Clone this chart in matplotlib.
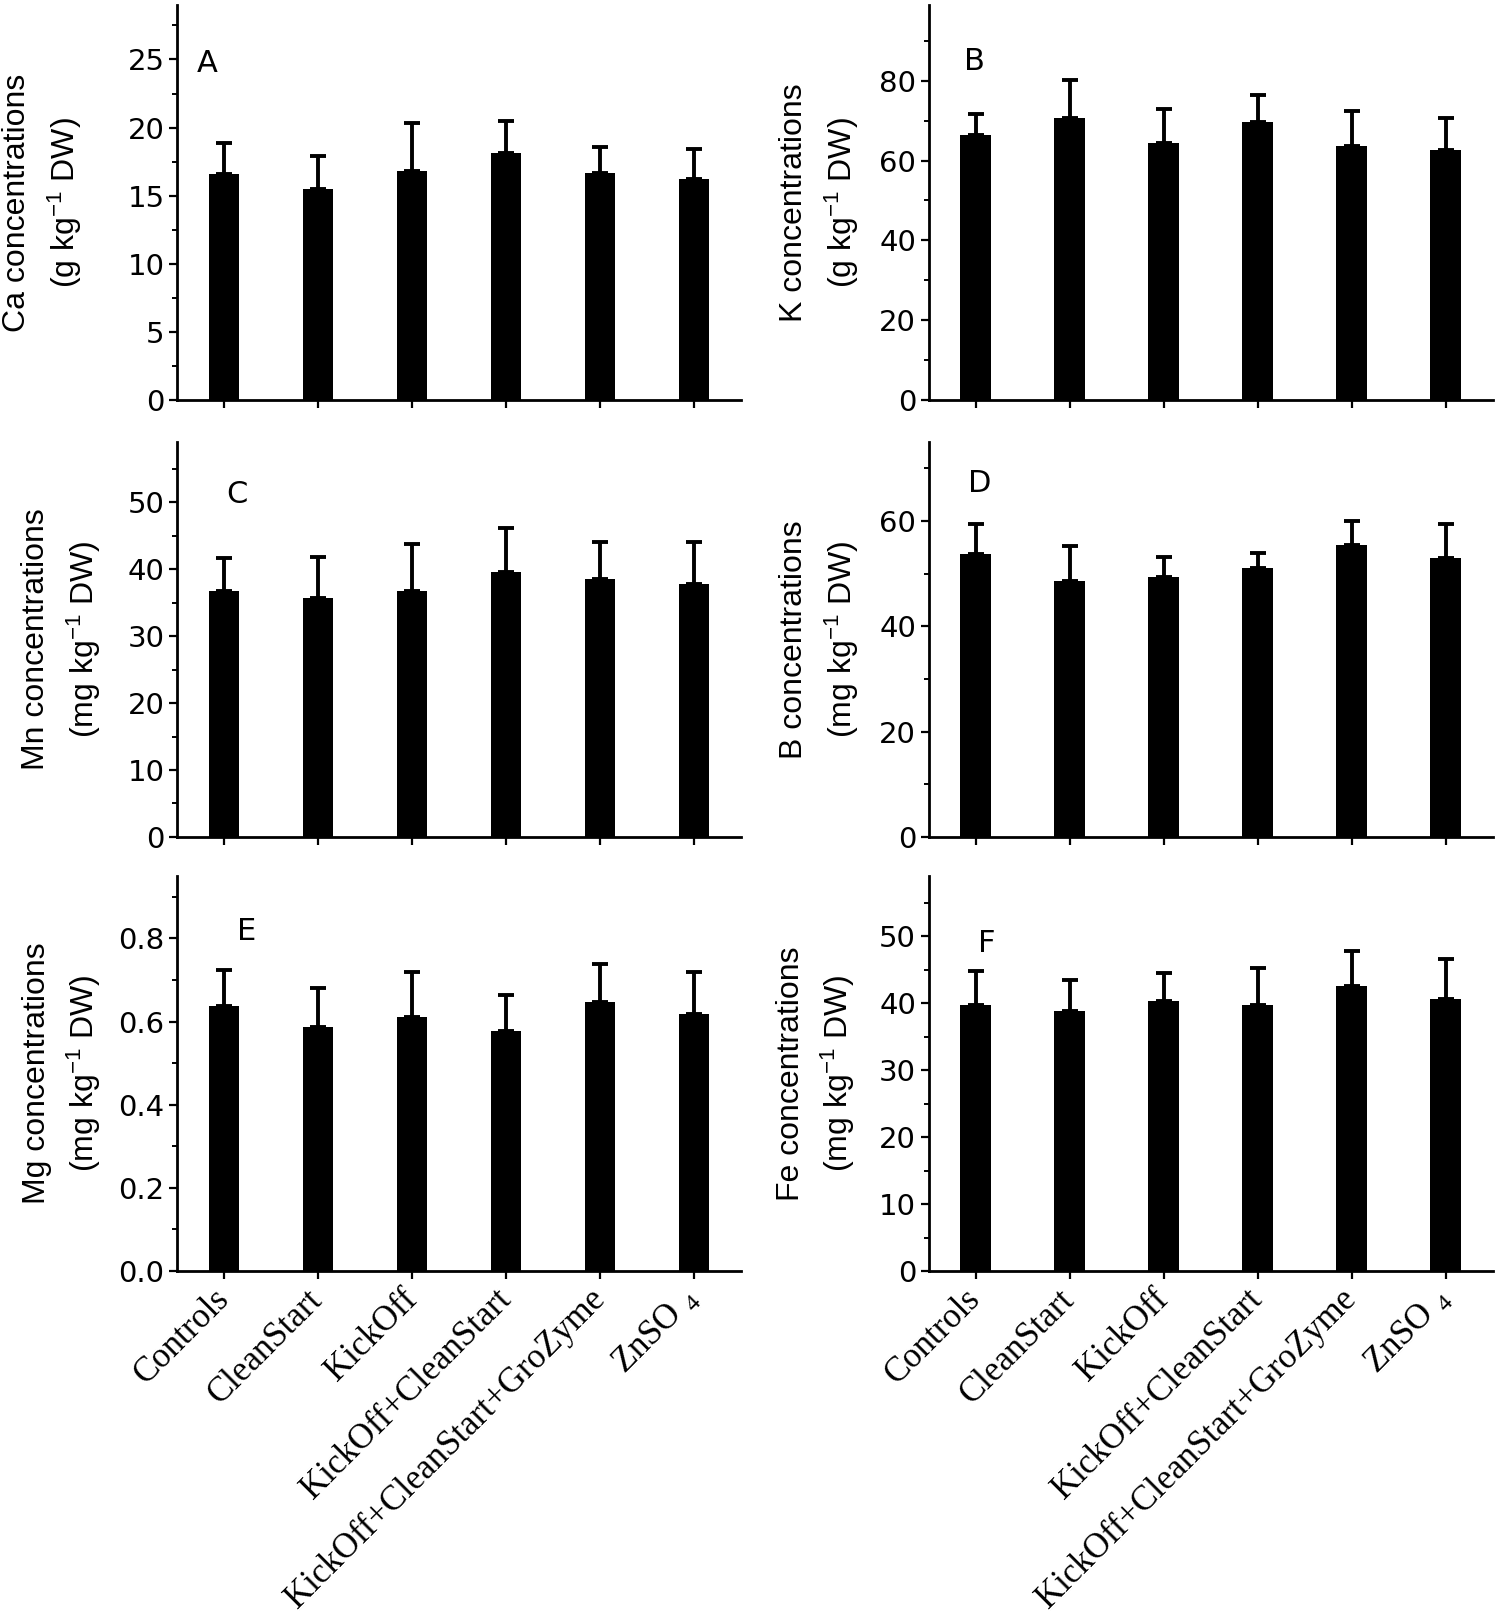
import numpy as np
import matplotlib.pyplot as plt
from matplotlib.ticker import MultipleLocator, FormatStrFormatter

plt.rcParams['font.family'] = ['Liberation Sans', 'DejaVu Sans']
plt.rcParams['mathtext.default'] = 'regular'

treatments = ['Controls', 'CleanStart', 'KickOff', 'KickOff+CleanStart',
              'KickOff+CleanStart+GroZyme', 'ZnSO $_{4}$']

# means and standard deviations
ca_mean = [16.6, 15.5, 16.8, 18.1, 16.7, 16.2]
ca_sd = [2.3, 2.4, 3.5, 2.4, 1.9, 2.2]
k_mean = [66.4, 70.7, 64.4, 69.6, 63.7, 62.6]
k_sd = [5.3, 9.5, 8.6, 6.8, 8.8, 8.0]
mn_mean = [36.8, 35.7, 36.8, 39.6, 38.6, 37.8]
mn_sd = [4.8, 6.1, 7.0, 6.6, 5.5, 6.3]
b_mean = [53.7, 48.6, 49.4, 51.1, 55.4, 52.9]
b_sd = [5.7, 6.7, 3.7, 2.8, 4.5, 6.5]
mg_mean = [0.638, 0.588, 0.610, 0.578, 0.648, 0.619]
mg_sd = [0.085, 0.092, 0.108, 0.085, 0.090, 0.099]
fe_mean = [39.7, 38.8, 40.4, 39.7, 42.6, 40.7]
fe_sd = [5.1, 4.6, 4.1, 5.6, 5.2, 5.9]

panels = [
    # mean, sd, ymax, major, minor, fmt, letter, element, unit, letter xy, ylabel x
    (ca_mean, ca_sd, 29, 5, 2.5, '%d', 'A', 'Ca', 'g', (0.035, 0.853), -0.165),
    (k_mean, k_sd, 99, 20, 10, '%d', 'B', 'K', 'g', (0.063, 0.856), -0.12),
    (mn_mean, mn_sd, 59, 10, 5, '%d', 'C', 'Mn', 'mg', (0.087, 0.868), -0.132),
    (b_mean, b_sd, 75, 20, 10, '%d', 'D', 'B', 'mg', (0.07, 0.894), -0.12),
    (mg_mean, mg_sd, 0.95, 0.2, 0.1, '%.1f', 'E', 'Mg', 'mg', (0.106, 0.86), -0.131),
    (fe_mean, fe_sd, 59, 10, 5, '%d', 'F', 'Fe', 'mg', (0.088, 0.83), -0.126),
]

fig = plt.figure(figsize=(15, 16.16), dpi=100)

lefts = [0.118, 0.619]
bottoms = [0.7525, 0.4821, 0.2135]
w, h = 0.376, 0.2444

x = np.arange(1, 7)

for i, (mean, sd, ymax, major, minor, fmt, letter, el, unit, lxy, labx) in enumerate(panels):
    row, col = divmod(i, 2)
    ax = fig.add_axes([lefts[col], bottoms[row], w, h])
    ax.bar(x, mean, width=0.32, color='k',
           yerr=[np.zeros(6), sd], capsize=6,
           error_kw=dict(elinewidth=2.8, capthick=2.8, ecolor='k'))
    ax.set_xlim(0.5, 6.5)
    ax.set_ylim(0, ymax)
    ax.yaxis.set_major_locator(MultipleLocator(major))
    ax.yaxis.set_minor_locator(MultipleLocator(minor))
    ax.yaxis.set_major_formatter(FormatStrFormatter(fmt))
    ax.set_xticks(x)
    for s in ['top', 'right']:
        ax.spines[s].set_visible(False)
    for s in ['left', 'bottom']:
        ax.spines[s].set_linewidth(2)
    ax.tick_params(which='major', direction='out', length=6, width=1.6, pad=3)
    ax.tick_params(which='minor', direction='out', length=3.5, width=1.4)
    ax.tick_params(axis='x', which='minor', bottom=False)
    for lab in ax.get_yticklabels():
        lab.set_fontfamily('DejaVu Sans')
        lab.set_fontsize(21)
    if row < 2:
        ax.tick_params(labelbottom=False)
    else:
        ax.set_xticklabels(treatments, rotation=45, ha='right', va='center',
                           rotation_mode='anchor', fontfamily='Liberation Serif',
                           fontsize=25)
        ax.tick_params(axis='x', pad=11)
    ax.set_ylabel(el + ' concentrations\n(' + unit + ' kg$^{-1}$ DW)',
                  fontsize=23, linespacing=1.45)
    ax.yaxis.set_label_coords(labx, 0.5)
    ax.text(lxy[0], lxy[1], letter, transform=ax.transAxes, fontsize=22,
            fontfamily='DejaVu Sans', ha='left', va='center')

fig.savefig('out.png', dpi=100)
